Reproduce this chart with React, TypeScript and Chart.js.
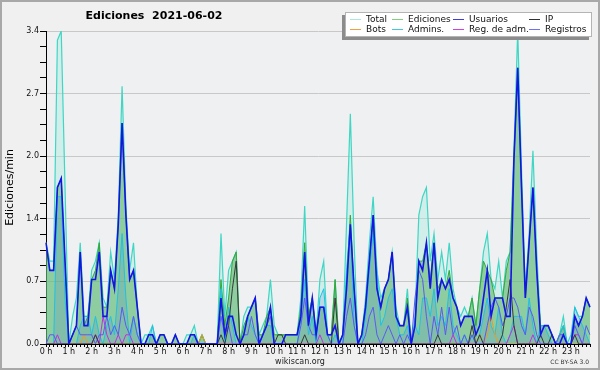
import React, { useEffect, useRef } from "react";
import { Chart, registerables } from "chart.js";

Chart.register(...registerables);

const TITLE = "Ediciones  2021-06-02";
const Y_TITLE = "Ediciones/min";
const FOOTER = "wikiscan.org";
const LICENSE = "CC BY-SA 3.0";
const Y_MAX = 3.4;
const Y_LABEL_TICKS = [0, 0.68, 1.36, 2.04, 2.72, 3.4];
const HOUR_LABELS = [
  "0 h", "1 h", "2 h", "3 h", "4 h", "5 h", "6 h", "7 h", "8 h", "9 h", "10 h", "11 h",
  "12 h", "13 h", "14 h", "15 h", "16 h", "17 h", "18 h", "19 h", "20 h", "21 h", "22 h", "23 h",
];
const MINUTES = ["00", "10", "20", "30", "40", "50"];
// 10-minute categories
const TIMES = HOUR_LABELS.flatMap((h, k) => MINUTES.map((m) => `${k}:${m}`));

// values in edits per minute, one per 10 minutes (6 per hour)
const TOTAL = [
  1.1, 0.9, 0.9, 3.3, 3.4, 1.7,
  0, 0.3, 0.5, 1.1, 0.3, 0.3,
  0.8, 0.9, 1.1, 0.5, 0.4, 1.0,
  0.7, 1.4, 2.8, 1.5, 0.8, 1.1,
  0.4, 0, 0.1, 0.1, 0.2, 0,
  0.1, 0.1, 0, 0, 0.1, 0,
  0, 0.1, 0.1, 0.2, 0, 0.1,
  0, 0, 0, 0, 1.2, 0.3,
  0.8, 0.9, 1.0, 0, 0.3, 0.4,
  0.4, 0.5, 0.1, 0.2, 0.3, 0.7,
  0.2, 0.1, 0.1, 0.1, 0.1, 0.1,
  0.1, 0.5, 1.5, 0.3, 0.5, 0.1,
  0.7, 0.9, 0.1, 0.1, 0.7, 0,
  0.1, 1.3, 2.5, 1.1, 0, 0.1,
  0.5, 1.1, 1.6, 0.8, 0.5, 0.6,
  0.7, 1.0, 0.4, 0.2, 0.2, 0.6,
  0, 0.3, 1.4, 1.6, 1.7, 0.9,
  1.2, 0.7, 1.0, 0.7, 1.1, 0.6,
  0.4, 0.3, 0.4, 0.3, 0.5, 0.2,
  0.6, 1.0, 1.2, 0.7, 0.6, 0.9,
  0.5, 0.9, 1.0, 2.1, 3.4, 1.9,
  0.6, 1.2, 2.1, 1.0, 0.2, 0.2,
  0.2, 0.1, 0, 0.1, 0.3, 0,
  0.1, 0.4, 0.3, 0.3, 0.5, 0.4,
];
const EDICIONES = [
  1.1, 0.8, 0.8, 1.7, 1.8, 0.9,
  0, 0.1, 0.2, 1.0, 0.2, 0.3,
  0.7, 0.8, 1.1, 0.4, 0.4, 0.8,
  0.6, 1.3, 2.4, 1.4, 0.7, 0.8,
  0.4, 0, 0, 0.1, 0.1, 0,
  0.1, 0.1, 0, 0, 0.1, 0,
  0, 0, 0.1, 0.1, 0, 0.1,
  0, 0, 0, 0, 0.7, 0.2,
  0.5, 0.9, 1.0, 0, 0.2, 0.3,
  0.4, 0.5, 0.1, 0.1, 0.3, 0.4,
  0.1, 0.1, 0.1, 0.1, 0.1, 0.1,
  0.1, 0.4, 1.1, 0.3, 0.5, 0.1,
  0.4, 0.4, 0.1, 0.1, 0.7, 0,
  0.1, 0.7, 1.4, 0.6, 0, 0.1,
  0.4, 0.9, 1.4, 0.6, 0.4, 0.6,
  0.7, 1.0, 0.3, 0.2, 0.2, 0.5,
  0, 0.2, 0.9, 0.9, 1.1, 0.7,
  1.1, 0.6, 0.7, 0.6, 0.8, 0.5,
  0.4, 0.2, 0.3, 0.3, 0.5, 0.2,
  0.6, 0.9, 0.8, 0.7, 0.5, 0.5,
  0.5, 0.8, 1.0, 2.0, 3.0, 1.7,
  0.5, 1.1, 1.7, 0.8, 0.2, 0.2,
  0.2, 0.1, 0, 0.1, 0.2, 0,
  0, 0.3, 0.2, 0.3, 0.5, 0.4,
];
const USUARIOS = [
  1.1, 0.8, 0.8, 1.7, 1.8, 0.9,
  0, 0.1, 0.2, 1.0, 0.2, 0.2,
  0.7, 0.7, 1.0, 0.3, 0.3, 0.8,
  0.6, 1.3, 2.4, 1.4, 0.7, 0.8,
  0.4, 0, 0, 0.1, 0.1, 0,
  0.1, 0.1, 0, 0, 0.1, 0,
  0, 0, 0.1, 0.1, 0, 0,
  0, 0, 0, 0, 0.5, 0.1,
  0.3, 0.3, 0.1, 0, 0.1, 0.3,
  0.4, 0.5, 0, 0.1, 0.2, 0.4,
  0, 0, 0, 0.1, 0.1, 0.1,
  0.1, 0.3, 1.0, 0.2, 0.5, 0.1,
  0.4, 0.4, 0.1, 0.1, 0.2, 0,
  0.1, 0.6, 1.3, 0.6, 0, 0.1,
  0.4, 0.9, 1.4, 0.6, 0.4, 0.6,
  0.7, 1.0, 0.3, 0.2, 0.2, 0.4,
  0, 0.2, 0.9, 0.8, 1.1, 0.6,
  1.1, 0.5, 0.7, 0.6, 0.7, 0.5,
  0.4, 0.2, 0.3, 0.3, 0.3, 0.1,
  0.2, 0.5, 0.8, 0.3, 0.5, 0.5,
  0.5, 0.3, 0.3, 2.0, 3.0, 1.7,
  0.5, 1.1, 1.7, 0.8, 0.1, 0.2,
  0.2, 0.1, 0, 0, 0.1, 0,
  0, 0.3, 0.2, 0.3, 0.5, 0.4,
];
const IP = [
  0, 0, 0, 0, 0, 0,
  0, 0, 0, 0, 0, 0,
  0, 0.1, 0, 0, 0, 0,
  0, 0, 0, 0, 0, 0,
  0, 0, 0, 0, 0, 0,
  0, 0, 0, 0, 0, 0,
  0, 0, 0, 0, 0, 0,
  0, 0, 0, 0, 0.1, 0,
  0.2, 0.6, 0.9, 0, 0, 0,
  0, 0, 0, 0, 0, 0,
  0, 0.1, 0.1, 0, 0, 0,
  0, 0, 0.1, 0, 0, 0,
  0, 0, 0, 0, 0.5, 0,
  0, 0, 0, 0, 0, 0,
  0, 0, 0, 0, 0, 0,
  0, 0, 0, 0, 0, 0,
  0, 0, 0, 0, 0, 0,
  0, 0.1, 0, 0, 0, 0,
  0, 0, 0, 0, 0.2, 0,
  0.1, 0, 0, 0, 0, 0,
  0.1, 0.4, 0.7, 0.2, 0, 0,
  0, 0, 0, 0, 0.1, 0,
  0, 0.1, 0, 0, 0, 0,
  0, 0.1, 0, 0, 0, 0,
];
const BOTS = [
  0, 0, 0, 0, 0, 0,
  0, 0, 0, 0, 0.1, 0,
  0, 0, 0, 0, 0, 0,
  0, 0, 0, 0, 0, 0,
  0, 0, 0, 0, 0, 0,
  0, 0, 0, 0, 0, 0,
  0, 0, 0, 0, 0, 0.1,
  0, 0, 0, 0, 0, 0,
  0, 0, 0, 0, 0, 0,
  0, 0, 0, 0, 0, 0,
  0, 0, 0, 0, 0, 0,
  0, 0, 0, 0, 0, 0,
  0, 0, 0, 0, 0, 0,
  0, 0, 0, 0, 0, 0,
  0, 0, 0, 0, 0, 0,
  0, 0, 0, 0, 0, 0,
  0, 0, 0, 0, 0, 0,
  0, 0, 0, 0, 0, 0,
  0, 0, 0, 0, 0, 0,
  0.1, 0, 0.1, 0.3, 0.1, 0,
  0, 0, 0, 0, 0, 0,
  0, 0, 0, 0, 0, 0,
  0, 0, 0, 0, 0, 0,
  0, 0, 0, 0, 0, 0,
];
const ADMINS = [
  0, 0, 0, 1.6, 1.6, 0.5,
  0, 0, 0, 0.2, 0.3, 0.3,
  0.1, 0.3, 0.1, 0, 0.2, 0.3,
  0.1, 0.6, 1.2, 0.5, 0, 0.3,
  0.1, 0, 0, 0, 0.2, 0,
  0, 0, 0, 0, 0, 0,
  0, 0, 0, 0.1, 0, 0,
  0, 0, 0, 0, 0.6, 0,
  0.4, 0.2, 0, 0, 0.1, 0.3,
  0.2, 0.1, 0, 0.1, 0.2, 0.2,
  0, 0, 0, 0, 0, 0,
  0, 0.3, 0.7, 0.1, 0.3, 0,
  0.5, 0.6, 0.1, 0, 0.1, 0,
  0, 0.8, 1.3, 0.2, 0, 0,
  0.3, 0.8, 1.2, 0.8, 0.2, 0.3,
  0.5, 0.6, 0.3, 0.1, 0.1, 0.2,
  0, 0.2, 0.1, 0.5, 0.5, 0.3,
  0.6, 0.2, 0.3, 0.2, 0.6, 0.2,
  0.1, 0, 0.1, 0, 0.1, 0,
  0.1, 0.3, 0.5, 0.2, 0.1, 0.4,
  0.1, 0, 0.1, 0.3, 0.3, 0.3,
  0.1, 0.5, 0.2, 0, 0.2, 0.2,
  0.1, 0, 0, 0.1, 0.2, 0,
  0, 0.4, 0.3, 0.2, 0.1, 0,
];
const REG_ADM = [
  0, 0, 0, 0.1, 0, 0,
  0, 0, 0, 0, 0, 0,
  0, 0.1, 0, 0.3, 0.1, 0,
  0, 0.1, 0, 0.1, 0.1, 0,
  0, 0, 0, 0, 0, 0,
  0, 0, 0, 0, 0, 0,
  0, 0, 0, 0, 0, 0,
  0, 0, 0, 0, 0, 0,
  0, 0, 0, 0, 0, 0,
  0, 0, 0, 0, 0, 0,
  0, 0, 0, 0, 0, 0,
  0, 0, 0, 0, 0, 0,
  0.1, 0, 0, 0, 0, 0,
  0, 0, 0, 0, 0, 0,
  0, 0, 0, 0, 0, 0,
  0, 0, 0, 0, 0, 0,
  0, 0, 0, 0, 0, 0,
  0, 0, 0, 0, 0, 0.1,
  0, 0, 0, 0, 0, 0,
  0, 0, 0, 0, 0, 0,
  0, 0, 0.1, 0.2, 0, 0,
  0, 0, 0.1, 0, 0, 0,
  0, 0, 0, 0, 0, 0,
  0, 0.1, 0.1, 0, 0, 0,
];
const REGISTROS = [
  0, 0.1, 0.1, 0, 0, 0,
  0, 0.1, 0.2, 0.1, 0.1, 0.1,
  0.1, 0, 0.1, 0.1, 0.3, 0.1,
  0.2, 0.1, 0.4, 0.2, 0.1, 0.3,
  0.1, 0, 0, 0, 0, 0,
  0, 0, 0, 0, 0, 0,
  0, 0, 0, 0, 0, 0,
  0, 0, 0, 0, 0.3, 0.1,
  0.2, 0, 0, 0, 0.1, 0.1,
  0.3, 0.1, 0, 0.1, 0.2, 0.3,
  0, 0, 0, 0, 0, 0,
  0, 0.2, 0.5, 0.2, 0.1, 0.1,
  0.4, 0.4, 0.1, 0, 0, 0,
  0, 0.3, 0.5, 0.2, 0, 0,
  0.1, 0.3, 0.4, 0.1, 0, 0.1,
  0.2, 0.1, 0, 0.1, 0, 0.1,
  0, 0.5, 0.8, 0.7, 0.3, 0,
  0.3, 0.1, 0.4, 0.1, 0.4, 0.1,
  0.2, 0, 0.1, 0, 0.1, 0,
  0, 0, 0.2, 0.4, 0.5, 0.4,
  0.2, 0.3, 0.5, 0.5, 0.4, 0.2,
  0.1, 0.4, 0.3, 0.1, 0, 0,
  0, 0, 0, 0.1, 0.1, 0,
  0, 0.2, 0.1, 0, 0.2, 0.1,
];

const FONT = "'DejaVu Sans', 'Noto Sans', sans-serif";

type SeriesStyle = {
  label: string;
  data: number[];
  line: string;
  legend: string;
  width: number;
  fill?: string;
  order: number;
};

const SERIES: SeriesStyle[] = [
  { label: "Total", data: TOTAL, line: "#3fd6c4", legend: "#a8e8e0", width: 1.2, fill: "rgba(165,235,222,0.4)", order: 8 },
  { label: "Ediciones", data: EDICIONES, line: "#35a83a", legend: "#80d080", width: 1, fill: "rgba(62,165,72,0.46)", order: 7 },
  { label: "Usuarios", data: USUARIOS, line: "#1414e6", legend: "#3c3ce0", width: 1.6, order: 1 },
  { label: "IP", data: IP, line: "#383838", legend: "#303030", width: 1, order: 2 },
  { label: "Bots", data: BOTS, line: "#f09a20", legend: "#f0a040", width: 1, order: 5 },
  { label: "Admins.", data: ADMINS, line: "#22c0e4", legend: "#40c8e0", width: 1, fill: "rgba(60,110,215,0.16)", order: 6 },
  { label: "Reg. de adm.", data: REG_ADM, line: "#c030e0", legend: "#d040e0", width: 1, order: 4 },
  { label: "Registros", data: REGISTROS, line: "#5a5af2", legend: "#7070f0", width: 1, order: 3 },
];

const framePlugin = {
  id: "frame",
  beforeDraw(chart: any) {
    const { ctx, chartArea } = chart;
    ctx.save();
    ctx.fillStyle = "#f0f0f0";
    ctx.fillRect(0, 0, chart.width, chart.height);
    ctx.fillStyle = "#eef0f2";
    ctx.fillRect(chartArea.left, chartArea.top, chartArea.right - chartArea.left, chartArea.bottom - chartArea.top);
    ctx.restore();
  },
  afterDraw(chart: any) {
    const { ctx } = chart;
    ctx.save();
    // title
    ctx.fillStyle = "#000";
    ctx.font = `bold 11px ${FONT}`;
    ctx.textAlign = "center";
    ctx.textBaseline = "middle";
    ctx.fillText(TITLE, 154, 16.5);
    // footer
    ctx.font = `8px ${FONT}`;
    ctx.fillStyle = "#222";
    ctx.fillText(FOOTER, 300, 361.5);
    ctx.font = `6px ${FONT}`;
    ctx.textAlign = "right";
    ctx.fillStyle = "#333";
    ctx.fillText(LICENSE, 589, 362.5);
    // legend box
    ctx.fillStyle = "#8c8c8c";
    ctx.fillRect(342, 15, 247, 25);
    ctx.fillStyle = "#ffffff";
    ctx.fillRect(345, 12, 247, 25);
    ctx.strokeStyle = "#b4b4b4";
    ctx.lineWidth = 1;
    ctx.strokeRect(345.5, 12.5, 246, 24);
    const textX = [366, 408, 469, 545];
    const rowY = [19, 29];
    ctx.font = `9px ${FONT}`;
    ctx.textAlign = "left";
    ctx.textBaseline = "middle";
    chart.data.datasets.forEach((ds: any, k: number) => {
      const col = k % 4;
      const row = Math.floor(k / 4);
      const y = rowY[row];
      const tx = textX[col];
      ctx.strokeStyle = SERIES[k].legend;
      ctx.lineWidth = 1;
      ctx.beginPath();
      ctx.moveTo(tx - 16, y + 0.5);
      ctx.lineTo(tx - 5, y + 0.5);
      ctx.stroke();
      ctx.fillStyle = "#111";
      ctx.fillText(ds.label, tx, y + 0.5);
    });
    // outer border
    ctx.strokeStyle = "#a8a8a8";
    ctx.lineWidth = 2;
    ctx.strokeRect(1, 1, chart.width - 2, chart.height - 2);
    ctx.restore();
  },
};

export default function App() {
  const ref = useRef<HTMLCanvasElement | null>(null);
  useEffect(() => {
    if (!ref.current) return;
    const chart = new Chart(ref.current, {
      type: "line",
      data: {
        labels: TIMES,
        datasets: SERIES.map((s) => ({
          label: s.label,
          data: s.data,
          borderColor: s.line,
          borderWidth: s.width,
          backgroundColor: s.fill || "transparent",
          fill: s.fill ? "origin" : false,
          pointRadius: 0,
          tension: 0,
          order: s.order,
        })),
      },
      options: {
        animation: false,
        responsive: false,
        devicePixelRatio: 1,
        layout: { padding: { left: 0, right: 10, top: 31, bottom: 0 } },
        plugins: {
          legend: { display: false },
          title: { display: false },
          tooltip: { enabled: false },
        },
        scales: {
          x: {
            type: "category",
            offset: false,
            grid: { display: true, drawOnChartArea: false, drawTicks: true, tickLength: 3, tickColor: "#000", tickWidth: 1 },
            border: { display: true, color: "#000", width: 1 },
            ticks: {
              autoSkip: false,
              maxRotation: 0,
              minRotation: 0,
              padding: 0,
              color: "#111",
              font: { family: FONT, size: 8 },
              callback: (_v: any, i: number) => (i % 6 === 0 ? HOUR_LABELS[i / 6] : ""),
            },
            afterFit: (s: any) => {
              s.height = 26;
            },
          },
          y: {
            min: 0,
            max: Y_MAX,
            afterBuildTicks: (s: any) => {
              const step = Y_LABEL_TICKS[1] / 4;
              const t: any[] = [];
              for (let k = 0; k <= 20; k++) t.push({ value: +(k * step).toFixed(4) });
              s.ticks = t;
            },
            grid: {
              color: (c: any) => (c.index % 4 === 0 ? "#c8c8c8" : "rgba(0,0,0,0)"),
              tickColor: "#000",
              tickLength: 6,
              drawTicks: true,
            },
            border: { display: true, color: "#000", width: 1 },
            ticks: {
              padding: 1,
              color: "#111",
              font: { family: FONT, size: 8 },
              callback: (v: any, i: number) => (i % 4 === 0 ? Number(v).toFixed(1) : ""),
            },
            title: {
              display: true,
              text: Y_TITLE,
              color: "#000",
              font: { family: FONT, size: 11 },
              padding: { top: 4, bottom: 0 },
            },
            afterFit: (s: any) => {
              s.width = 46;
            },
          },
        },
      },
      plugins: [framePlugin],
    });
    return () => chart.destroy();
  }, []);
  return (
    <div style={{ position: "absolute", left: 0, top: 0, width: 600, height: 370 }}>
      <canvas ref={ref} width={600} height={370} style={{ display: "block" }} />
    </div>
  );
}
